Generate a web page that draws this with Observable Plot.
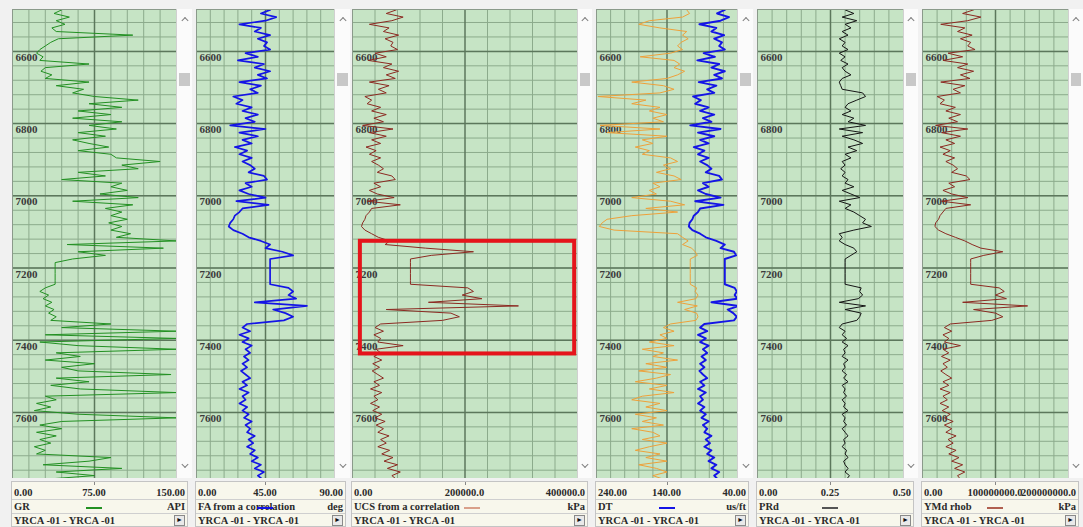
<!DOCTYPE html>
<html>
<head>
<meta charset="utf-8">
<script src="https://cdn.jsdelivr.net/npm/d3@7"></script>
<script src="https://cdn.jsdelivr.net/npm/@observablehq/plot@0.6"></script>
<style>
  html,body{margin:0;padding:0;}
  body{width:1083px;height:527px;overflow:hidden;position:relative;background:#f1f1f1;font-family:"Liberation Serif","DejaVu Serif",serif;}
  .plot{position:absolute;top:9px;}
  .plot svg{display:block;}
  .scroll{position:absolute;top:9px;height:469px;background:#fbfbfb;border-left:1px solid #d0d0d0;box-sizing:border-box;}
  .thumb{position:absolute;left:2px;right:2px;top:64px;height:13px;background:#c8c8c8;}
  .chev{position:absolute;left:50%;width:4px;height:4px;border-left:1.3px solid #808080;border-top:1.3px solid #808080;}
  .chev.up{top:9px;transform:translateX(-50%) rotate(45deg);}
  .chev.down{bottom:11px;transform:translateX(-50%) rotate(225deg);}
  .foot{position:absolute;top:481px;height:46px;background:#f8f7ec;border:1px solid #c4c4c4;box-sizing:border-box;font-weight:bold;font-size:10.5px;color:#2a2a2a;}
  .foot span{position:absolute;line-height:14px;white-space:nowrap;}
  .sep{position:absolute;left:0;right:0;height:1px;background:#cfcfcf;}
  .btn{position:absolute;width:9px;height:9px;border:1px solid #8a8a8a;background:#e9e9e9;font-size:7px;line-height:9px;text-align:center;color:#111;}
  .sample{position:absolute;height:1.5px;width:16px;}
  .ctick{position:absolute;top:0;width:1px;height:3px;background:#888;}
</style>
</head>
<body>
<script>
// ---------- data ----------
const depthStart = 6485, depthStep = 10;           // sample depths (ft)
const depthLabels = [6600, 6800, 7000, 7200, 7400, 7600];

const gr = [45,38,52,40,48,36,40,110,42,35, 30,25,22,28,25,70,30,26,36,30,
  70,40,65,55,75,115,70,100,60,90, 55,100,70,95,60,85,55,70,88,60,
  90,95,135,100,115,60,85,45,100,90, 105,80,115,55,110,85,100,90,105,88,
  100,90,108,95,150,50,138,60,85,55, 39,39,39,39,39,39,39,30,25,33,
  28,36,30,38,33,40,35,90,45,150, 30,150,25,60,150,40,62,30,75,45,
  60,145,40,70,35,62,150,30,40,22, 35,20,60,150,45,25,45,22,40,25,
  35,20,30,22,90,70,28,100,40,75, 30];

const fa = [48,42,52,45,28,42,38,48,40,46, 44,48,32,40,27,44,38,48,40,46,
  28,42,35,40,24,30,26,36,30,40, 32,38,22,45,28,40,30,36,25,33,
  28,36,30,35,38,34,44,46,32,36, 28,34,45,26,47,30,28,25,24,22,
  21,24,30,34,42,48,45,56,63,48, 48,48,48,48,48,48,48,60,63,60,
  65,38,72,50,58,63,57,33,30,35, 28,34,30,36,32,35,31,34,30,33,
  29,32,35,30,33,28,34,30,32,28, 33,30,34,31,36,32,35,33,38,34,
  37,33,38,35,40,36,42,38,44,40, 43];

const ucs = [78,60,90,70,30,65,55,82,58,72, 68,80,40,60,28,70,55,82,60,76,
  30,65,46,60,22,34,26,50,34,60, 38,55,18,72,30,60,34,50,24,42,
  30,50,34,46,55,44,70,76,38,50, 30,44,74,26,85,34,30,24,22,18,
  16,22,34,46,66,58,130,215,140,103, 103,103,103,103,103,103,103,205,215,195,
  230,135,295,60,175,190,160,50,40,55, 38,50,45,90,42,50,38,52,36,48,
  35,45,55,38,48,32,52,38,45,32, 48,36,52,40,58,42,55,45,65,50,
  60,45,66,52,72,56,80,62,85,70, 78].map(v => v * 1000);

const dt = [58,69,52,64,94,70,77,59,73,62, 66,58,88,72,97,66,77,58,73,62,
  95,70,83,73,103,92,100,81,93,73, 89,77,107,64,96,73,93,81,102,87,
  96,81,93,83,77,85,66,62,89,81, 96,85,64,100,60,93,96,102,104,108,
  109,104,93,85,70,58,64,45,42,58, 58,58,58,58,58,58,58,44,41,44,
  40,77,38,54,46,41,45,87,93,83, 96,85,93,81,89,83,91,85,93,87,
  94,89,83,93,87,96,85,93,89,96, 87,93,85,91,81,89,83,87,77,85,
  79,87,77,83,73,81,70,77,66,73, 68];

const dtOrange = [112,108,118,165,180,150,112,118,110,120, 125,118,135,178,130,122,130,115,125,140,
  190,145,130,150,238,170,190,150,165,140, 160,145,235,150,225,140,175,160,185,165,
  175,135,125,145,135,155,130,120,160,150, 165,155,190,135,115,170,125,190,225,232,
  236,215,125,118,110,118,105,100,97,107, 107,107,107,107,107,107,107,98,100,96,
  99,125,97,115,98,96,99,135,145,130, 150,140,165,130,175,145,160,125,170,140,
  180,135,155,185,140,165,130,175,190,150, 170,140,185,155,175,145,190,160,150,175,
  140,165,185,150,170,140,180,155,140,160, 145];

const prd = [.30,.33,.29,.34,.30,.32,.29,.31,.28,.30, .29,.31,.28,.30,.285,.31,.29,.30,.32,.29,
  .28,.285,.29,.36,.37,.34,.31,.30,.32,.29, .33,.31,.37,.28,.36,.29,.33,.36,.31,.34,
  .30,.32,.29,.30,.285,.30,.29,.31,.30,.33, .29,.32,.35,.28,.32,.30,.33,.35,.37,.36,
  .39,.33,.28,.29,.28,.30,.33,.34,.32,.30, .30,.30,.30,.30,.30,.30,.30,.355,.35,.36,
  .345,.28,.37,.30,.355,.35,.34,.29,.28,.30, .29,.305,.29,.31,.295,.30,.29,.31,.295,.30,
  .29,.305,.295,.31,.29,.30,.295,.305,.29,.30, .295,.31,.29,.30,.295,.305,.29,.30,.31,.295,
  .30,.29,.305,.30,.31,.295,.30,.31,.30,.315, .305];

const ymd = [70,55,80,62,25,58,48,68,52,66, 62,72,35,55,28,62,48,70,52,65,
  25,58,42,52,20,30,24,45,32,52, 36,48,18,62,26,52,32,44,24,38,
  28,44,32,42,48,40,60,65,36,44, 28,40,62,26,66,32,28,24,22,18,
  17,22,32,45,58,68,80,110,84,66, 66,66,66,66,66,66,66,105,112,100,
  115,55,144,70,100,110,95,38,30,40, 28,36,30,52,28,36,26,38,28,34,
  25,32,40,28,36,24,38,28,34,24, 36,27,38,30,42,30,40,32,46,35,
  42,32,46,36,50,40,55,44,58,48, 52].map(v => v * 1e6);

const highlight = [{x1: 14000, x2: 395000, top: 7126, bottom: 7438}];

const tickLabels = {
  gr: ["0.00", "75.00", "150.00"],
  fa: ["0.00", "45.00", "90.00"],
  ucs: ["0.00", "200000.0", "400000.0"],
  dt: ["240.00", "140.00", "40.00"],
  prd: ["0.00", "0.25", "0.50"],
  ymd: ["0.00", "100000000.0", "200000000.0"]
};
const curveNames = {gr:"GR", fa:"FA from a correlation", ucs:"UCS from a correlation", dt:"DT", prd:"PRd", ymd:"YMd rhob"};
const units = {gr:"API", fa:"deg", ucs:"kPa", dt:"us/ft", prd:"", ymd:"kPa"};
const wellLabel = "YRCA -01 - YRCA -01";

// ---------- layout ----------
const DEPTH_TOP = 6484, DEPTH_BOTTOM = 7783;
const depths = gr.map((_, i) => depthStart + i * depthStep);
const gridDepths = d3.range(6520, DEPTH_BOTTOM, 40);

const tracks = [
  {key:"gr",  left:12,  width:164, scrollW:16, domain:[0,150], sample:"#229022",
   curves:[{v:gr, stroke:"#229022", w:1}]},
  {key:"fa",  left:196, width:138, scrollW:16, domain:[0,90], sample:"#1414e6",
   curves:[{v:fa, stroke:"#1414e6", w:1.7}]},
  {key:"ucs", left:352, width:225, scrollW:15, domain:[0,400000], sample:"#d9a08a", samplePos:"after",
   curves:[{v:ucs, stroke:"#8c2a22", w:1}], rect:true},
  {key:"dt",  left:596, width:141, scrollW:16, domain:[240,40], sample:"#1414e6",
   curves:[{v:dtOrange, stroke:"#eea13a", w:1}, {v:dt, stroke:"#1414e6", w:1.9}]},
  {key:"prd", left:757, width:146, scrollW:15, domain:[0,0.5], sample:"#555",
   curves:[{v:prd, stroke:"#151515", w:1}]},
  {key:"ymd", left:922, width:146, scrollW:15, domain:[0,2e8], sample:"#b06050",
   curves:[{v:ymd, stroke:"#8c2a22", w:1}]}
];

const FONT = "Liberation Serif, DejaVu Serif, serif";

for (const t of tracks) {
  const [d0, d1] = t.domain;
  const grid = d3.range(1, 10).filter(k => k !== 5).map(k => d0 + (d1 - d0) * k / 10);
  const mid = d0 + (d1 - d0) / 2;
  const marks = [
    Plot.ruleY(gridDepths, {stroke:"#8cab8c", strokeWidth:1}),
    Plot.ruleX(grid, {stroke:"#8cab8c", strokeWidth:1}),
    Plot.ruleY(depthLabels, {stroke:"#5c775c", strokeWidth:1.5}),
    Plot.ruleX([mid], {stroke:"#5c775c", strokeWidth:1.5}),
    Plot.text(depthLabels, {y: d => d, frameAnchor:"left", text: d => String(d), textAnchor:"start",
      dx:3, dy:6, fontSize:11, fontWeight:"bold", fontFamily:FONT, fill:"#3a3a3a"}),
    ...t.curves.map(c => Plot.line(depths, {x: (d, i) => c.v[i], y: d => d, stroke:c.stroke,
      strokeWidth:c.w, clip:true})),
    Plot.frame({stroke:"#8a9a8a"})
  ];
  if (t.rect) marks.push(Plot.rect(highlight, {x1:"x1", x2:"x2", y1:"top", y2:"bottom",
      fill:"none", stroke:"#e5141b", strokeWidth:4}));
  const chart = Plot.plot({
    width: t.width, height: 469, margin: 0,
    x: {domain: t.domain, axis: null},
    y: {domain: [DEPTH_TOP, DEPTH_BOTTOM], reverse: true, axis: null},
    style: {background:"#c6e4c5", overflow:"hidden"},
    marks
  });
  const wrap = document.createElement("div");
  wrap.className = "plot";
  wrap.style.left = t.left + "px";
  wrap.appendChild(chart);
  document.body.appendChild(wrap);

  // scroll column
  const sc = document.createElement("div");
  sc.className = "scroll";
  sc.style.left = (t.left + t.width) + "px";
  sc.style.width = t.scrollW + "px";
  sc.innerHTML = '<div class="chev up"></div><div class="thumb"></div><div class="chev down"></div>';
  document.body.appendChild(sc);

  // footer
  const fw = t.width + t.scrollW - 3;
  const f = document.createElement("div");
  f.className = "foot";
  f.style.left = (t.left - 1) + "px";
  f.style.width = fw + "px";
  const [l0, l1, l2] = tickLabels[t.key];
  const c = t.width / 2;
  f.innerHTML =
    `<div class="ctick" style="left:${c}px"></div>` +
    `<span style="left:2px;top:4px">${l0}</span>` +
    `<span style="left:${c}px;top:4px;transform:translateX(-50%)">${l1}</span>` +
    `<span style="right:2px;top:4px">${l2}</span>` +
    `<div class="sep" style="top:17px"></div>` +
    `<span style="left:2px;top:18px">${curveNames[t.key]}</span>` +
    `<div class="sample" style="left:${t.samplePos === "after" ? 112 : c - 8}px;top:25px;background:${t.sample}"></div>` +
    `<span style="right:2px;top:18px">${units[t.key]}</span>` +
    `<div class="sep" style="top:31px"></div>` +
    `<span style="left:2px;top:32px">${wellLabel}</span>` +
    `<div class="btn" style="right:2px;top:33px">&#9658;</div>`;
  document.body.appendChild(f);
}
</script>
</body>
</html>
